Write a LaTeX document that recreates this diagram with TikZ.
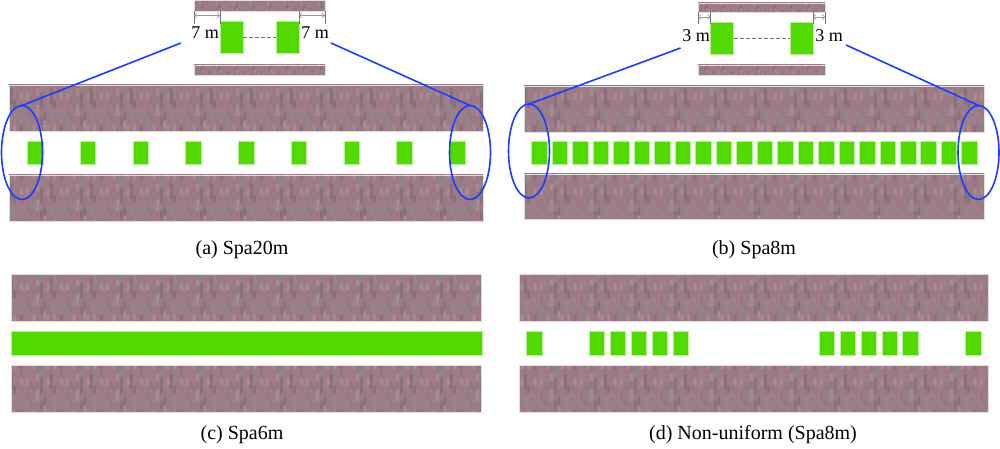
\documentclass[tikz,border=0pt]{standalone}
\usepackage{fontspec}
\setmainfont{Liberation Serif}
\usetikzlibrary{shapes.geometric,arrows.meta,patterns}
\definecolor{wbase}{HTML}{9A7B86}
\definecolor{wc0}{HTML}{9A7B86}
\definecolor{wc1}{HTML}{A07E88}
\definecolor{wc2}{HTML}{947A85}
\definecolor{wc3}{HTML}{A67880}
\definecolor{wc4}{HTML}{86717E}
\definecolor{wc5}{HTML}{908690}
\definecolor{wc6}{HTML}{A88A92}
\definecolor{wc7}{HTML}{9E7883}
\definecolor{wedge}{HTML}{E4DCE0}
\definecolor{gbl}{HTML}{52D900}
\definecolor{gbe}{HTML}{B8F0A0}
\definecolor{bl}{HTML}{1C3CFF}
\definecolor{dimc}{HTML}{8FA0A0}
\newcommand{\defwalltex}[2]{%
  \pgfmathsetlengthmacro{\tw}{12*#2}%
  \pgfmathsetlengthmacro{\th}{14.4*#2}%
  \edef\wtexdecl{\noexpand\pgfdeclarepatterninherentlycolored{#1}%
    {\noexpand\pgfqpoint{0pt}{0pt}}{\noexpand\pgfqpoint{\tw}{\th}}{\noexpand\pgfqpoint{\tw}{\th}}}%
  \wtexdecl{%
    \pgfsetfillcolor{wbase}%
    \pgfpathrectangle{\pgfqpoint{0pt}{0pt}}{\pgfqpoint{\tw}{\th}}\pgfusepath{fill}%
    \pgfmathsetseed{4711}%
    \foreach \cc in {0,...,11}{%
      \foreach \rr in {-1,0,1,2,3,4,5}{%
        \pgfmathrandominteger{\idx}{0}{7}%
        \pgfmathsetlengthmacro{\xa}{\cc*#2}%
        \pgfmathsetlengthmacro{\ya}{(\rr+0.5*mod(\cc,2))*2.4*#2}%
        \pgfmathsetlengthmacro{\wa}{#2-0.08*#2}%
        \pgfmathsetlengthmacro{\ha}{2.4*#2-0.08*#2}%
        \pgfsetfillcolor{wc\idx}%
        \pgfpathrectangle{\pgfqpoint{\xa}{\ya}}{\pgfqpoint{\wa}{\ha}}\pgfusepath{fill}%
      }%
    }%
  }%
}
\defwalltex{wallbig}{3.3}
\defwalltex{wallsmall}{1.4}
\tikzset{
  wallstrip/.style={preaction={fill=wbase},pattern=wallbig,draw=wedge,line width=0.5},
  wallinset/.style={preaction={fill=wbase},pattern=wallsmall,draw=wedge,line width=0.5},
  block/.style={shape=rectangle,fill=gbl,draw=gbe,line width=0.6,inner sep=0,outer sep=0},
  bigblock/.style={block,minimum width=15.5,minimum height=23.5},
  inblock/.style={block,minimum width=23,minimum height=31.5},
  zoomring/.style={shape=ellipse,draw=bl,line width=1.6,inner sep=0,outer sep=0,minimum width=41,minimum height=94},
  zoomline/.style={draw=bl,line width=1.6},
  gapline/.style={draw=black!55,line width=0.9,dash pattern=on 4pt off 2pt},
  dimline/.style={draw=dimc,line width=0.7,{Straight Barb[length=2.5pt]}-{Straight Barb[length=2.5pt]}},
  dimtick/.style={draw=black!55,line width=0.6},
  dimlabel/.style={font=\fontsize{18}{20}\selectfont,inner sep=0},
  caption/.style={font=\fontsize{20}{22}\selectfont,inner sep=0}
}
\begin{document}
\begin{tikzpicture}[x=1pt,y=-1pt]
\useasboundingbox (0,0) rectangle (1000,449);
\fill[white] (0,0) rectangle (1000,449);
% walls
\path[wallstrip] (9,85) rectangle (483,131);
\path[wallstrip] (9,175) rectangle (483,221);
\path[wallstrip] (524,86) rectangle (984,132);
\path[wallstrip] (524,174) rectangle (984,219);
\path[wallstrip] (11,274) rectangle (481,321);
\path[wallstrip] (11,365) rectangle (481,412);
\path[wallstrip] (519,274) rectangle (988,321);
\path[wallstrip] (519,365) rectangle (988,412);
\path[wallinset] (194,0) rectangle (325,11);
\path[wallinset] (194,65) rectangle (325,75);
\path[wallinset] (698,3) rectangle (825,12.5);
\path[wallinset] (698,65) rectangle (825,75);
% (a)
\foreach \i in {0,...,8}{
  \node[bigblock] (a\i) at ({35.2+52.75*\i},153) {};
}
\node[zoomring] (ral) at (22,152.5) {};
\node[zoomring] (rar) at (470,152.5) {};
% (b)
\foreach \i in {0,...,21}{
  \node[bigblock] (b\i) at ({539.4+20.48*\i},152.7) {};
}
\node[zoomring] (rbl) at (529,151) {};
\node[zoomring] (rbr) at (978.5,152.5) {};
% (c)
\node[block,minimum width=471,minimum height=24.5] (cbar) at (246.5,343.2) {};
% (d)
\foreach \i/\x in {0/534.3,1/597,2/618,3/639,4/660,5/681,6/827,7/848,8/869,9/890,10/910.5,11/973.3}{
  \node[bigblock] (d\i) at (\x,343.2) {};
}
% inset a
\node[inblock] (ia1) at (231.5,37.5) {};
\node[inblock] (ia2) at (287.5,37.5) {};
\draw[gapline] (ia1) -- (ia2);
\coordinate (ta1) at (194,11); \coordinate (ta1b) at (194,24);
\coordinate (ta2) at (220,11); \coordinate (ta2b) at (220,24);
\coordinate (ta3) at (299,11); \coordinate (ta3b) at (299,24);
\coordinate (ta4) at (325,11); \coordinate (ta4b) at (325,24);
\foreach \p/\q in {ta1/ta1b,ta2/ta2b,ta3/ta3b,ta4/ta4b}{\draw[dimtick] (\p) -- (\q);}
\draw[dimline] (194,15.5) -- (220,15.5);
\draw[dimline] (299,15.5) -- (325,15.5);
\node[dimlabel] (la1) at (205,33) {7 m};
\node[dimlabel] (la2) at (315,33) {7 m};
\coordinate (za1) at (181,43);
\coordinate (za2) at (331,43);
\draw[zoomline] (ral.north) -- (za1);
\draw[zoomline] (rar.north) -- (za2);
% inset b
\node[inblock] (ib1) at (722,38.5) {};
\node[inblock] (ib2) at (801.3,38.5) {};
\draw[gapline] (ib1) -- (ib2);
\coordinate (tb1) at (698,12.5); \coordinate (tb1b) at (698,24);
\coordinate (tb2) at (710.5,12.5); \coordinate (tb2b) at (710.5,24);
\coordinate (tb3) at (812.8,12.5); \coordinate (tb3b) at (812.8,24);
\coordinate (tb4) at (825,12.5); \coordinate (tb4b) at (825,24);
\foreach \p/\q in {tb1/tb1b,tb2/tb2b,tb3/tb3b,tb4/tb4b}{\draw[dimtick] (\p) -- (\q);}
\draw[dimline] (698,17) -- (710.5,17);
\draw[dimline] (812.8,17) -- (825,17);
\node[dimlabel] (lb1) at (696,36) {3 m};
\node[dimlabel] (lb2) at (829,36) {3 m};
\coordinate (zb1) at (680.5,48);
\coordinate (zb2) at (846,45);
\draw[zoomline] (rbl.north) -- (zb1);
\draw[zoomline] (rbr.north) -- (zb2);
% captions
\node[caption] (capa) at (242,250) {(a) Spa20m};
\node[caption] (capb) at (754,250) {(b) Spa8m};
\node[caption] (capc) at (242,435) {(c) Spa6m};
\node[caption] (capd) at (753,435) {(d) Non-uniform (Spa8m)};
\end{tikzpicture}
\end{document}
